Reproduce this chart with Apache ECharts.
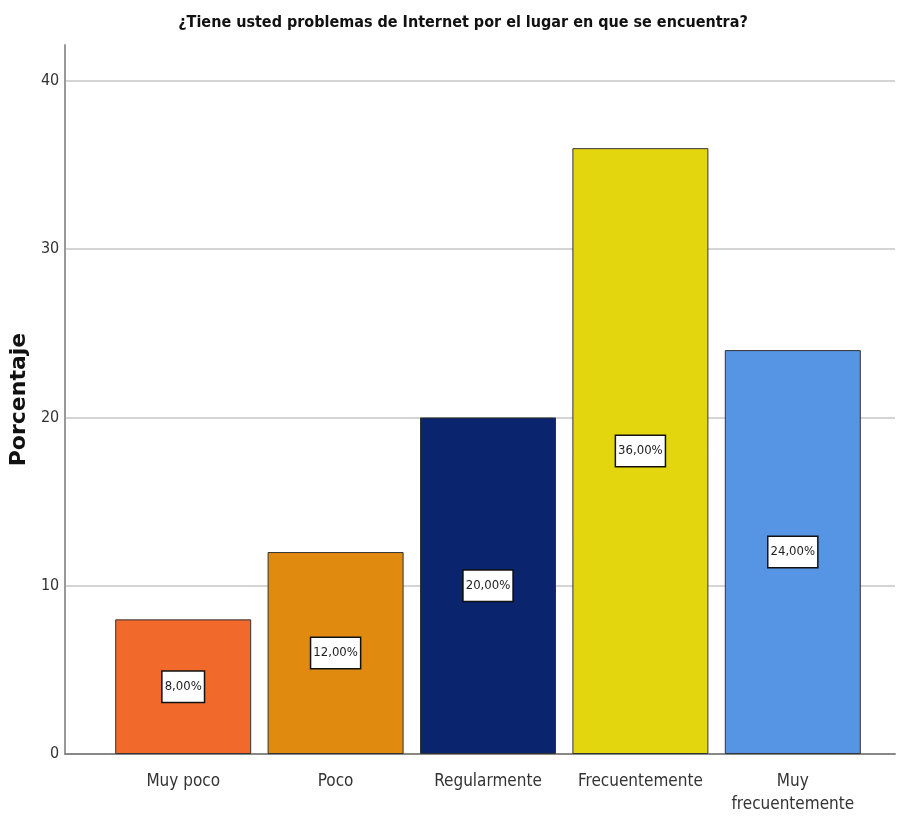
<!DOCTYPE html>
<html>
<head>
<meta charset="utf-8">
<script src="https://cdn.jsdelivr.net/npm/echarts@6/dist/echarts.min.js"></script>
<style>
html,body{margin:0;padding:0;background:#fff;}
#chart{width:897px;height:828px;}
</style>
</head>
<body>
<div id="chart"></div>
<script>
const categories = ['Muy poco', 'Poco', 'Regularmente', 'Frecuentemente', 'Muy\nfrecuentemente'];
const values = [8, 12, 20, 36, 24];
const barColors = ['#F26A2B', '#E08A10', '#0A256E', '#E3D60F', '#5595E3'];
const yTicks = [0, 10, 20, 30, 40];

const FONT = '"DejaVu Sans Condensed", "Liberation Sans Narrow", "Arial Narrow", "Liberation Sans", Arial, sans-serif';

const chart = echarts.init(document.getElementById('chart'), null, {renderer: 'canvas'});
chart.setOption({
  backgroundColor: '#ffffff',
  animation: false,
  title: {
    text: '¿Tiene usted problemas de Internet por el lugar en que se encuentra?',
    left: 458, top: 10, textAlign: 'center',
    textStyle: {fontFamily: FONT, fontSize: 16, fontWeight: 'bold', color: '#111'}
  },
  grid: [
    {left: 65, right: 2, top: 45, bottom: 74},
    {left: 107, right: 28, top: 45, bottom: 74}
  ],
  xAxis: [
    {gridIndex: 0, type: 'value', min: 0, max: 1, show: true,
     axisLine: {show: true, lineStyle: {color: '#888', width: 2}},
     axisTick: {show: false}, axisLabel: {show: false}, splitLine: {show: false}},
    {gridIndex: 1, type: 'category', data: categories, boundaryGap: true,
     axisLine: {show: false}, axisTick: {show: false},
     axisLabel: {fontFamily: FONT, fontSize: 17, color: '#333', margin: 16, lineHeight: 23, interval: 0}}
  ],
  yAxis: [
    {gridIndex: 0, type: 'value', min: 0, max: 42.13, interval: 10,
     name: 'Porcentaje', nameLocation: 'middle', nameGap: 33, nameRotate: 90,
     nameTextStyle: {fontFamily: '"DejaVu Sans", "Liberation Sans", Arial, sans-serif', fontSize: 22, fontWeight: 'bold', color: '#111'},
     axisLine: {show: true, lineStyle: {color: '#999', width: 2}},
     axisTick: {show: false},
     axisLabel: {fontFamily: FONT, fontSize: 16, color: '#333', margin: 6,
       formatter: v => (yTicks.indexOf(v) >= 0 ? String(v) : '')},
     splitLine: {show: true, showMaxLine: false, lineStyle: {color: '#d4d4d4', width: 2}}},
    {gridIndex: 1, type: 'value', min: 0, max: 42.13, interval: 10, show: false,
     splitLine: {show: false}}
  ],
  series: [{
    type: 'bar',
    xAxisIndex: 1, yAxisIndex: 1,
    barWidth: 136,
    data: values.map((v, i) => ({value: v, itemStyle: {color: barColors[i]}})),
    itemStyle: {borderColor: '#333', borderWidth: 1},
    label: {
      show: true, position: 'inside',
      formatter: p => p.value.toFixed(2).replace('.', ',') + '%',
      fontFamily: FONT, fontSize: 13, color: '#222',
      backgroundColor: '#ffffff', borderColor: '#111', borderWidth: 1.5,
      padding: [9, 2, 8, 2]
    }
  }]
});
</script>
</body>
</html>
